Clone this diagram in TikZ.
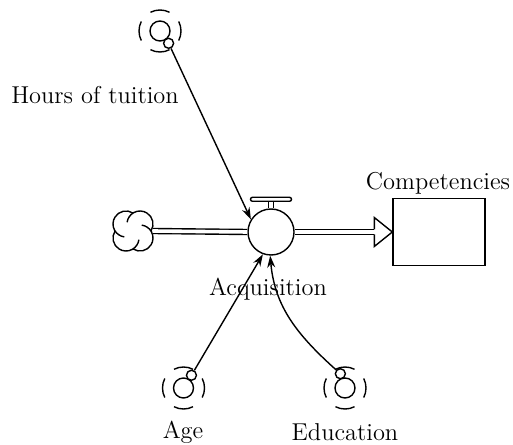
\documentclass[tikz,border=0pt]{standalone}
\usetikzlibrary{arrows.meta}

\tikzset{
	conv/.style={circle, draw, minimum size=10pt, inner sep=0pt},
	knob/.style={circle, draw, fill=white, minimum size=5pt, inner sep=0pt},
	pipe/.style={double, double distance=1.8pt},
	link/.style={-{Stealth[length=6pt,width=4pt]}},
	lbl/.style={font=\fontsize{12.2}{14}\selectfont}
}

\begin{document}
\begin{tikzpicture}[x=0.5pt, y=0.5pt, line width=0.7pt]
	\useasboundingbox (0, 0) rectangle (513, 444);
	
	% flow valve and stock
	\node[circle, draw, minimum size=23pt, inner sep=0pt] (valve) at (271, 212) {};
	\node[draw, minimum width=46pt, minimum height=33.5pt] (stock) at (439, 212) {};
	\coordinate (cl) at (133, 213);
	\coordinate (hb) at ([xshift=-9pt]stock.west);
	
	% cloud
	\foreach \c in {45, 135, 225, 315}
	\draw ([shift={(\c:4.95pt)}]cl) ++(\c-77.6:6.5pt)
	arc[start angle=\c-77.6, delta angle=205, radius=6.5pt];
	
	% pipes
	\draw[pipe] ([xshift=10pt]cl) -- (valve.west);
	\draw[pipe] (valve.east) -- (hb);
	\draw ([yshift=1.25pt]hb) -- ([yshift=7.25pt]hb) -- (stock.west)
	-- ([yshift=-7.25pt]hb) -- ([yshift=-1.25pt]hb);
	\draw[pipe] (valve.north) -- ++(0, 3.5pt);
	\draw[rounded corners=1pt] ([xshift=-10.25pt, yshift=3.5pt]valve.north)
	rectangle ++(20.5pt, 2pt);
	
	% converters
	\node[conv] (tu) at (160, 413) {};
	\node[conv] (age) at (183.5, 56) {};
	\node[conv] (edu) at (345, 56) {};
	\foreach \n in {tu, age, edu}
	\foreach \a in {0, 90, 180, 270}
	\draw ([shift={(\a-27:10.5pt)}]\n.center) arc[start angle=\a-27, end angle=\a+27, radius=10.5pt];
	\node[knob] (tus) at ([shift={(-55:7.5pt)}]tu.center) {};
	\node[knob] (ages) at ([shift={(58:7.5pt)}]age.center) {};
	\node[knob] (edus) at ([shift={(108:7.5pt)}]edu.center) {};
	
	% labels
	\node[lbl] (tul) at (95, 349) {Hours of tuition};
	\node[lbl] (stl) at (438, 261) {Competencies};
	\node[lbl] (val) at (268, 155) {Acquisition};
	\node[lbl] (agel) at (183, 12) {Age};
	\node[lbl] (edul) at (345, 12) {Education};
	
	% links
	\draw[link] (tus) -- (valve.148);
	\draw[link] (ages) -- (valve.250);
	\draw[link] (edus) to[out=138, in=-85] (valve.268);
\end{tikzpicture}
\end{document}
